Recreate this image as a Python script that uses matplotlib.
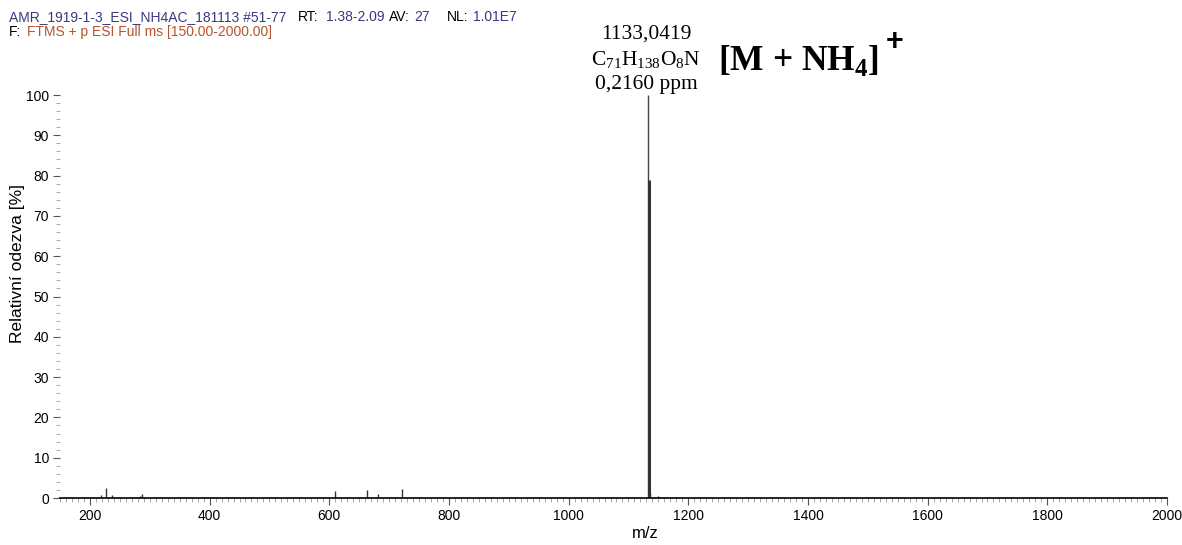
import matplotlib
matplotlib.use("Agg")
import matplotlib.pyplot as plt
from matplotlib.ticker import MultipleLocator

# spektrum - hodnoty
mz_peaks = [218.9, 226.8, 236.9, 284.2, 287.1, 609.4, 663.5, 681.5, 721.6,
            1133.04, 1134.05, 1136.05, 1150.0, 1155.0, 1165.0, 1180.0]
intensity = [0.7, 2.4, 0.8, 0.6, 1.0, 1.8, 2.0, 0.9, 2.3,
             100.0, 79.0, 1.2, 0.6, 0.3, 0.3, 0.2]

x_ticks = [200, 400, 600, 800, 1000, 1200, 1400, 1600, 1800, 2000]
y_ticks = [0, 10, 20, 30, 40, 50, 60, 70, 80, 90, 100]

purple = "#3c3882"
orange = "#b5552b"

plt.rcParams['font.family'] = ['Liberation Sans', 'DejaVu Sans']
plt.rcParams['mathtext.fontset'] = 'custom'
plt.rcParams['mathtext.rm'] = 'Liberation Serif'
plt.rcParams['mathtext.bf'] = 'Liberation Serif:bold'

fig = plt.figure(figsize=(11.82, 5.45), dpi=100)
ax = fig.add_axes([60 / 1182, 47 / 545, (1167 - 60) / 1182, (498 - 95) / 545])

# hlavni pik (tenky) a izotop (tlusty)
ax.vlines(mz_peaks[9], 0, intensity[9], color="#444444", lw=1.0)
ax.vlines(mz_peaks[10], 0, intensity[10], color="#333333", lw=2.2)
ax.vlines(mz_peaks[:9] + mz_peaks[11:], 0, intensity[:9] + intensity[11:],
          color="#333333", lw=1.0)

ax.set_xlim(150, 2000)
ax.set_ylim(0, 100)
ax.set_xticks(x_ticks)
ax.set_yticks(y_ticks)
ax.xaxis.set_minor_locator(MultipleLocator(10))
ax.yaxis.set_minor_locator(MultipleLocator(2))
ax.tick_params(axis='both', which='major', labelsize=10, length=5, width=0.8,
               pad=3, color="#555555")
ax.tick_params(axis='both', which='minor', length=3, width=0.6, color="#999999")
for s in ['top', 'right', 'left']:
    ax.spines[s].set_visible(False)
ax.spines['bottom'].set_linewidth(1.2)

ax.set_xlabel("m/z", fontsize=12, va='center')
ax.set_ylabel("Relativní odezva [%]", fontsize=12.5)
ax.xaxis.set_label_coords((645 - 60) / 1107, -(534 - 498) / 403)
ax.yaxis.set_label_coords((25 - 60) / 1107, (498 - 263) / 403)

# hlavicka
def t(xpx, ypx, s, c):
    fig.text(xpx / 1182, 1 - ypx / 545, s, color=c, fontsize=10,
             va='center', ha='left')

t(9, 17, "AMR_1919-1-3_ESI_NH4AC_181113 #51-77", purple)
t(298, 17, "RT:", "black")
t(326, 17, "1.38-2.09", purple)
t(389, 17, "AV:", "black")
t(414, 17, "27", purple)
t(447, 17, "NL:", "black")
t(473, 17, "1.01E7", purple)
t(9, 32, "F:", "black")
t(27, 32, "FTMS + p ESI Full ms [150.00-2000.00]", orange)

# anotace piku
serif = ['Liberation Serif', 'DejaVu Serif']
fig.text(646 / 1182, 1 - 34 / 545, "1133,0419", family=serif, fontsize=15.5,
         ha='center', va='center')
fig.text(646 / 1182, 1 - 60 / 545, r"C$_{71}$H$_{138}$O$_{8}$N", family=serif,
         fontsize=15.5, ha='center', va='center')
fig.text(646 / 1182, 1 - 84 / 545, "0,2160 ppm", family=serif, fontsize=15.5,
         ha='center', va='center')
fig.text(718 / 1182, 1 - 61 / 545, r"[M + NH$_\mathbf{4}$]", family=serif,
         fontsize=25.5, fontweight='bold', ha='left', va='center')
fig.text(895 / 1182, 1 - 42 / 545, "+", family=['Liberation Sans'],
         fontsize=22, fontweight='bold', ha='center', va='center')

fig.savefig("out.png", dpi=100)
